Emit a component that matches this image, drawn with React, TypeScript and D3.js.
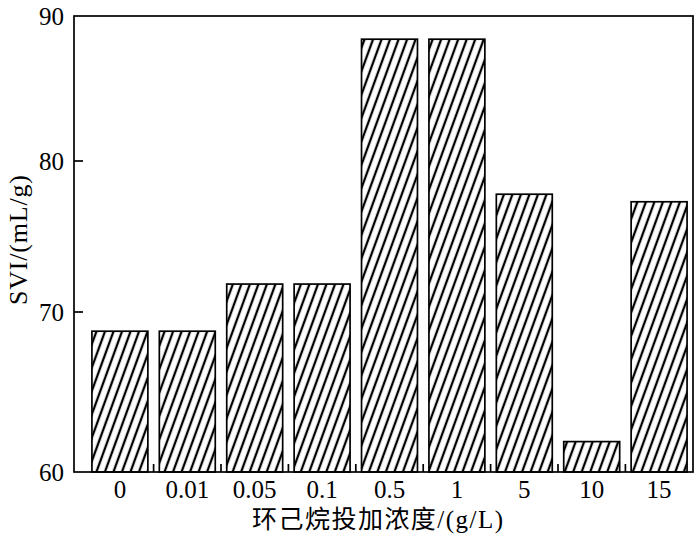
import React from "react";
import * as d3 from "d3";

const categories = ["0", "0.01", "0.05", "0.1", "0.5", "1", "5", "10", "15"];
const sviValues = [68.8, 68.8, 71.85, 71.85, 88.4, 88.4, 77.8, 61.9, 77.3];
const yTicks = [60, 70, 80, 90];
const xTitle = "环己烷投加浓度/(g/L)";
const yTitle = "SVI/(mL/g)";

const W = 700;
const H = 549;
const frame = { left: 74, right: 693, top: 16, bottom: 472 };

export default function App() {
  // axis drawn in the reference is not perfectly linear; follow its tick positions
  const y = d3.scaleLinear().domain([60, 70, 80, 90]).range([472, 312, 161, 16]);
  const x = d3
    .scaleBand<string>()
    .domain(categories)
    .range([86.2, 692.8])
    .paddingInner(0.17)
    .paddingOuter(0.085);
  const step = x.step();
  const bw = x.bandwidth();
  const font = "'Liberation Serif', 'Times New Roman', 'Noto Sans CJK SC', serif";

  return (
    <svg
      width={W}
      height={H}
      style={{ position: "absolute", left: 0, top: 0, background: "#fff" }}
    >
      <defs>
        <pattern
          id="hatch"
          patternUnits="userSpaceOnUse"
          width={8}
          height={8}
          patternTransform="rotate(20)"
        >
          <rect width={8} height={8} fill="#fff" />
          <line x1={4} y1={-1} x2={4} y2={9} stroke="#000" strokeWidth={2.3} />
        </pattern>
      </defs>

      {/* bars */}
      {categories.map((c, i) => {
        const x0 = x(c)!;
        const yt = y(sviValues[i]);
        return (
          <rect
            key={c}
            x={x0}
            y={yt}
            width={bw}
            height={y(60) - yt}
            fill="url(#hatch)"
            stroke="#000"
            strokeWidth={1.7}
          />
        );
      })}

      {/* frame */}
      <rect
        x={frame.left}
        y={frame.top}
        width={frame.right - frame.left}
        height={frame.bottom - frame.top}
        fill="none"
        stroke="#000"
        strokeWidth={1.7}
      />

      {/* y ticks */}
      {yTicks.map((t) => (
        <g key={t}>
          {t !== 60 && t !== 90 && (
            <line
              x1={frame.left}
              x2={frame.left + 9}
              y1={y(t)}
              y2={y(t)}
              stroke="#000"
              strokeWidth={1.7}
            />
          )}
          <text
            x={64}
            y={y(t) + 8.5}
            textAnchor="end"
            fontFamily={font}
            fontSize={25}
            fill="#000"
          >
            {t}
          </text>
        </g>
      ))}

      {/* x ticks between bars */}
      {categories.slice(1).map((c) => {
        const xb = x(c)! - (step - bw) / 2;
        return (
          <line
            key={c}
            x1={xb}
            x2={xb}
            y1={frame.bottom}
            y2={frame.bottom - 8}
            stroke="#000"
            strokeWidth={1.7}
          />
        );
      })}

      {/* x labels */}
      {categories.map((c) => (
        <text
          key={c}
          x={x(c)! + bw / 2}
          y={498}
          textAnchor="middle"
          fontFamily={font}
          fontSize={25}
          fill="#000"
        >
          {c}
        </text>
      ))}

      {/* axis titles */}
      <text
        x={252}
        y={528}
        fontFamily={font}
        fontSize={25}
        textLength={251}
        lengthAdjust="spacing"
        fill="#000"
      >
        {xTitle}
      </text>
      <text
        transform="translate(27,240) rotate(-90)"
        textAnchor="middle"
        fontFamily={font}
        fontSize={26}
        textLength={130}
        lengthAdjust="spacing"
        fill="#000"
      >
        {yTitle}
      </text>
    </svg>
  );
}
